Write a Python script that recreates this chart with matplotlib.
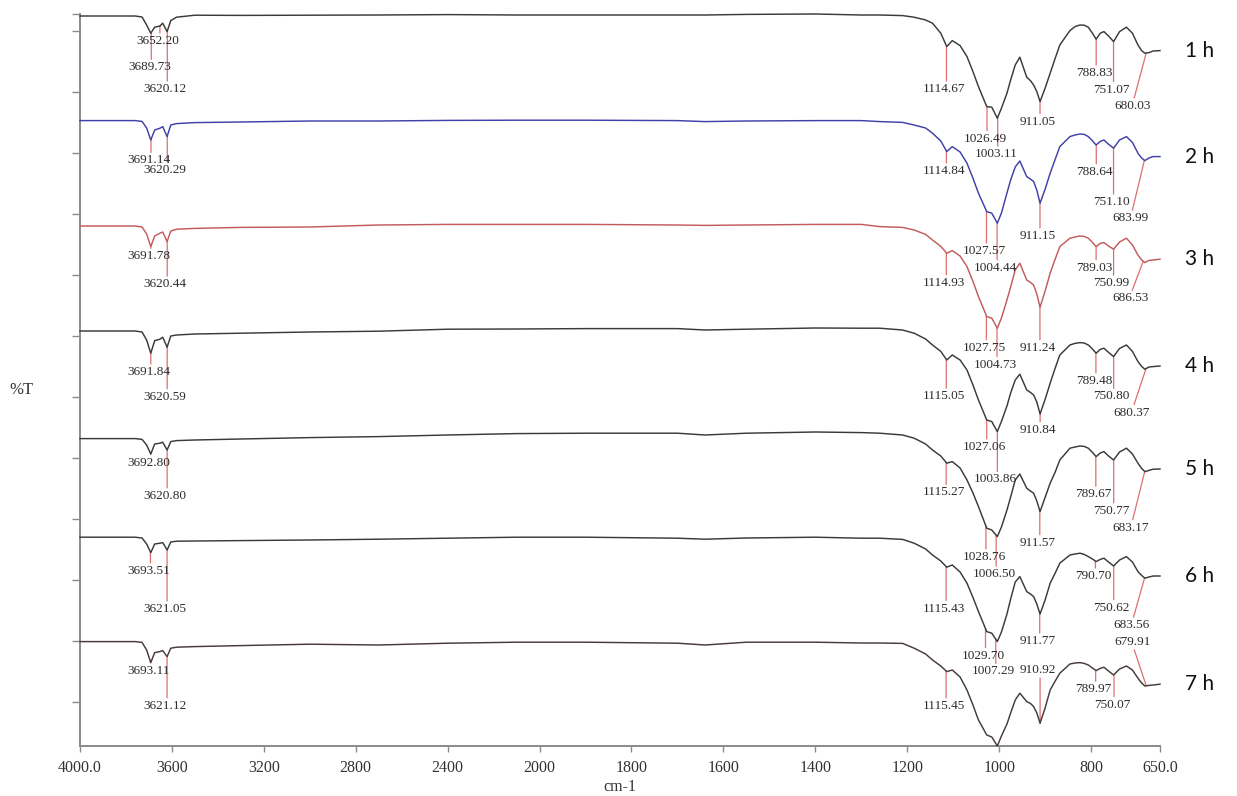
import numpy as np
import matplotlib
matplotlib.use("Agg")
import matplotlib.pyplot as plt

# ---------------------------------------------------------------- data
wavenumber = np.array([
    4000, 3900, 3760, 3730, 3710, 3692, 3675, 3652, 3640, 3621, 3605, 3580,
    3500, 3300, 3000, 2700, 2400, 2100, 1900, 1700, 1640, 1550, 1400, 1300,
    1260, 1210, 1185, 1160, 1145, 1127, 1114, 1102, 1085, 1070,
    1057, 1045, 1027, 1016, 1004, 995, 983, 975, 965, 955,
    940, 932, 925, 918, 911, 900, 889, 878, 868, 846,
    835, 824, 815, 806, 797, 789, 780, 772, 762, 751,
    738, 723, 710, 698, 690, 683, 674, 665, 650])

t_1h = np.array([
    90, 90, 90, 89.5, 85.5, 81.4, 84.4, 85, 86.4, 82.2, 87.7, 89.4,
    90.4, 90.3, 90.4, 90.5, 90.7, 90.5, 90.5, 90.5, 90.5, 90.8, 91, 90.5,
    90.5, 90.2, 89.4, 88, 86.4, 81.4, 74.7, 77.7, 75.2, 69.7,
    62.2, 54.7, 44.7, 44.4, 38.9, 43.9, 51.4, 58, 65.5, 69.4,
    59.4, 57.7, 55.5, 52.2, 47.2, 53.9, 61.4, 68.9, 75.5, 82.7,
    84.7, 85.5, 85.4, 84.4, 81.4, 78.4, 81.4, 82.2, 80, 77.2,
    82.2, 84.4, 81.4, 75.5, 72.7, 71.4, 71.7, 72.5, 72.7])

t_2h = np.array([
    90.2, 90.2, 90.2, 89.8, 86.5, 80.5, 85.5, 86.4, 87.2, 82.2, 88, 88.7,
    89.2, 89.5, 90, 90, 90.3, 90.4, 90.4, 90.2, 89.7, 90, 90.2, 90.2,
    89.7, 89.3, 88, 86.5, 83.9, 80, 74.7, 77.2, 74.5, 68.9,
    61.4, 53.9, 44.7, 43.9, 38.9, 44, 54, 60.5, 67, 70,
    62.2, 61, 59.7, 55.4, 48.9, 55.9, 63.9, 70.9, 77.2, 82.2,
    83, 83.5, 83.3, 82.2, 80.1, 78, 79.8, 80.5, 78.4, 76.4,
    80.5, 82.2, 79.3, 73.9, 71.5, 70.2, 71.5, 72.2, 72.2])

t_3h = np.array([
    90, 90, 90, 89.5, 86, 79.7, 85, 86.4, 87, 82.2, 87.5, 88.4,
    88.8, 89.3, 89.5, 90.5, 90.8, 90.8, 90.8, 90.5, 90.3, 90.5, 90.8, 90.8,
    89.7, 89.3, 88, 85.8, 83, 79.8, 76.4, 77.7, 75, 69.7,
    62.3, 54.7, 44.7, 43.9, 38.9, 44, 53, 59.5, 68, 71.4,
    63, 61.8, 60.5, 56, 49.4, 57.5, 66.4, 73.5, 79.7, 83.9,
    84.5, 85, 84.8, 83.9, 81.8, 79.7, 81.3, 81.7, 80, 78.4,
    82, 83.9, 80.5, 75.5, 73, 71.7, 72.8, 73, 73.4])

t_4h = np.array([
    90, 90, 90, 89.5, 85.5, 78.9, 85.2, 85.9, 86.9, 81.9, 87.5, 88,
    88.5, 88.9, 89.5, 89.9, 90.9, 91, 91.2, 91.2, 90.5, 90.9, 91.5, 91.4,
    91.4, 90.5, 88.9, 86, 83, 79.8, 75.5, 78, 75.5, 70.5,
    63, 55.5, 45.5, 44.7, 39.7, 44.8, 52.5, 59, 65.5, 68.4,
    60.5, 59.3, 58, 54.5, 48.5, 55.8, 63.9, 71.5, 78, 83,
    83.8, 84.2, 84, 83, 81, 78.9, 80.8, 81.4, 79.3, 77.2,
    81.3, 83, 79.8, 74.7, 72.3, 70.9, 72, 72.2, 72.5])

t_5h = np.array([
    89.7, 89.7, 89.7, 89.3, 86.5, 82, 87, 87.4, 87.9, 84, 88.2, 88.7,
    89, 89.5, 90.2, 90.7, 91.5, 92.2, 92.4, 92.4, 91.5, 92.4, 93, 92.7,
    92.4, 91.5, 89.9, 87, 84, 81, 77.4, 78.2, 75, 69,
    62.5, 55.7, 44.9, 44, 40.7, 45.5, 54, 60.5, 69, 72,
    64.9, 63.5, 62.4, 58.5, 53.2, 60.3, 67.4, 73, 79, 84.9,
    85.5, 86, 85.8, 84.9, 82.8, 80.7, 82.5, 83.2, 81, 79,
    83, 84.9, 82, 77.4, 74.8, 73.2, 73.8, 74.4, 74.5])

t_6h = np.array([
    90.4, 90.4, 90.4, 90, 87, 82.7, 87, 87.4, 87.7, 84, 88, 88.4,
    88.5, 88.7, 89, 89.4, 89.9, 90.4, 90.4, 89.9, 89.4, 90, 90.4, 89.9,
    89.9, 89.3, 87.4, 84.5, 81.5, 78.5, 75.4, 76.5, 73, 67.4,
    60.3, 53.2, 43.2, 42.4, 38.2, 43, 52, 59.5, 68, 70.7,
    63.2, 62, 60.7, 57, 52, 59, 67.4, 72.5, 77.4, 81.5,
    82, 82.4, 81.8, 80.7, 79.5, 78.2, 79.3, 79.9, 78, 76,
    79, 80.7, 78, 73.2, 71.3, 69.9, 70.5, 71, 71])

t_7h = np.array([
    90.2, 90.2, 90.2, 89.8, 86, 79.7, 84.7, 85.2, 85.7, 82.7, 86.9, 87.4,
    87.7, 88.2, 88.9, 88.5, 89.4, 89.9, 89.9, 89.4, 88.5, 89.9, 89.9, 89.5,
    89.5, 89.3, 86.9, 84, 81, 78, 75.2, 76, 72.5, 66,
    58.5, 51, 43.5, 42.5, 38, 43, 49, 54.5, 61, 64.4,
    60.2, 59.3, 57.7, 54.5, 49.4, 57, 66, 70.5, 74.4, 79,
    79.5, 79.7, 79.3, 78.5, 77, 75.7, 76.8, 77.4, 75.5, 73.5,
    76.5, 78, 76, 71.9, 69.5, 68, 68.3, 68.5, 68.9])

sample_names = ["1 h", "2 h", "3 h", "4 h", "5 h", "6 h", "7 h"]

peaks_1h = ["3689.73", "3652.20", "3620.12", "1114.67", "1026.49", "1003.11",
            "911.05", "788.83", "751.07", "680.03"]
peaks_2h = ["3691.14", "3620.29", "1114.84", "1027.57", "1004.44", "911.15",
            "788.64", "751.10", "683.99"]
peaks_3h = ["3691.78", "3620.44", "1114.93", "1027.75", "1004.73", "911.24",
            "789.03", "750.99", "686.53"]
peaks_4h = ["3691.84", "3620.59", "1115.05", "1027.06", "1003.86", "910.84",
            "789.48", "750.80", "680.37"]
peaks_5h = ["3692.80", "3620.80", "1115.27", "1028.76", "1006.50", "911.57",
            "789.67", "750.77", "683.17"]
peaks_6h = ["3693.51", "3621.05", "1115.43", "1029.70", "1007.29", "911.77",
            "790.70", "750.62", "683.56"]
peaks_7h = ["3693.11", "3621.12", "1115.45", "910.92", "789.97", "750.07",
            "679.91"]

x_ticks = [4000, 3600, 3200, 2800, 2400, 2000, 1800, 1600, 1400, 1200, 1000, 800, 650]
x_tick_labels = ["4000.0", "3600", "3200", "2800", "2400", "2000", "1800",
                 "1600", "1400", "1200", "1000", "800", "650.0"]

# ---------------------------------------------------------------- layout
# vertical stacking offset of each spectrum (in %T units)
stack_offset = [315, 262.5, 210, 157.5, 104, 54, 2]
trace_colors = ["#3a3a3a", "#4040a8", "#c25c5c", "#3a3a3a", "#3a3a3a", "#3a3a3a", "#463a3a"]

# leader lines for the peak labels: (dx, dy) in pixels, dy > 0 means downward
leader_1h = [(0, 27), (0, 7), (0, 50), (0, 35), (0, 24), (0, 29), (0, 12), (0, 26), (0, 40), (-12, 45)]
leader_2h = [(0, 13), (0, 26), (0, 12), (0, 32), (0, 37), (0, 25), (0, 19), (0, 46), (-12, 50)]
leader_3h = [(0, 2), (0, 35), (0, 22), (0, 24), (0, 29), (0, 33), (0, 13), (0, 26), (-11, 29)]
leader_4h = [(0, 11), (0, 42), (0, 29), (0, 19), (0, 40), (0, 8), (0, 20), (0, 32), (-12, 36)]
leader_5h = [(0, 1), (0, 38), (0, 22), (0, 23), (0, 31), (0, 24), (0, 30), (0, 43), (-12, 48)]
leader_6h = [(0, 11), (0, 51), (0, 34), (0, 19), (0, 24), (0, 20), (0, 7), (0, 34), (-11, 39)]
leader_7h = [(0, 1), (0, 41), (0, 27), (0, -45), (0, 11), (0, 22), (-12, -36)]

spectra = [t_1h, t_2h, t_3h, t_4h, t_5h, t_6h, t_7h]
peak_lists = [peaks_1h, peaks_2h, peaks_3h, peaks_4h, peaks_5h, peaks_6h, peaks_7h]
leader_lists = [leader_1h, leader_2h, leader_3h, leader_4h, leader_5h, leader_6h, leader_7h]

SERIF = "Liberation Serif"
PEAK_RED = "#dc6f6f"
AXIS_GREY = "#8a8a8a"


def _compress_high(w):
    """Wavenumber axis with the 4000-2000 range drawn at half scale."""
    w = np.asarray(w, dtype=float)
    return np.where(w > 2000, 2000 + (w - 2000) / 2.0, w)


def _expand_high(u):
    u = np.asarray(u, dtype=float)
    return np.where(u > 2000, 2000 + (u - 2000) * 2.0, u)


fig = plt.figure(figsize=(12.37, 7.96), dpi=100)
ax = fig.add_axes([80 / 1237, 50 / 796, 1080 / 1237, 732 / 796])
ax.set_xscale("function", functions=(_compress_high, _expand_high))

for i, (name, t) in enumerate(zip(sample_names, spectra)):
    y = t + stack_offset[i]
    ax.plot(wavenumber, y, color=trace_colors[i], lw=1.05, clip_on=False, zorder=3)

    # peak labels with leader lines
    for label, (dx, dy) in zip(peak_lists[i], leader_lists[i]):
        wn = float(label)
        yp = np.interp(wn, wavenumber[::-1], y[::-1])
        ax.annotate("", xy=(wn, yp), xytext=(dx, -dy), textcoords="offset pixels",
                    arrowprops=dict(arrowstyle="-", color=PEAK_RED, lw=0.9,
                                    shrinkA=0, shrinkB=0), zorder=2)
        ty = -(dy + 8) if dy >= 0 else -(dy - 8)
        ax.annotate(label, xy=(wn, yp), xytext=(dx - 2, ty), textcoords="offset pixels",
                    ha="center", va="center", fontsize=9.5, family=SERIF,
                    color="#2b2b2b", zorder=4)

    # sample name at the right end of each spectrum
    ax.annotate(name, xy=(wavenumber[-1], y[-1]), xytext=(40, 0),
                textcoords="offset pixels", ha="center", va="center",
                fontsize=15, family="Lato", color="#111111", annotation_clip=False)

ax.set_xlim(4000, 650)
ax.set_ylim(40, 406)
ax.set_xticks(x_ticks)
ax.set_xticklabels(x_tick_labels)
ax.minorticks_off()
ax.set_yticks(list(np.arange(62, 400, 30.5)) + [406])
ax.set_yticklabels([])

for side in ("top", "right"):
    ax.spines[side].set_visible(False)
for side in ("left", "bottom"):
    ax.spines[side].set_color(AXIS_GREY)
    ax.spines[side].set_linewidth(1.4)

ax.tick_params(axis="x", direction="out", length=4, width=1.0, color=AXIS_GREY,
               pad=6, labelsize=11.5, labelcolor="#333333")
ax.tick_params(axis="y", direction="out", length=6, width=1.0, color=AXIS_GREY)
for lbl in ax.get_xticklabels():
    lbl.set_family(SERIF)

ax.set_xlabel("cm-1", family=SERIF, fontsize=11.5, color="#333333", labelpad=2)
ax.set_ylabel("%T", family=SERIF, fontsize=12, color="#333333", rotation=0,
              ha="center", va="center")
ax.yaxis.set_label_coords(-0.054, 0.486)

fig.savefig("out.png", dpi=100, facecolor="white")
